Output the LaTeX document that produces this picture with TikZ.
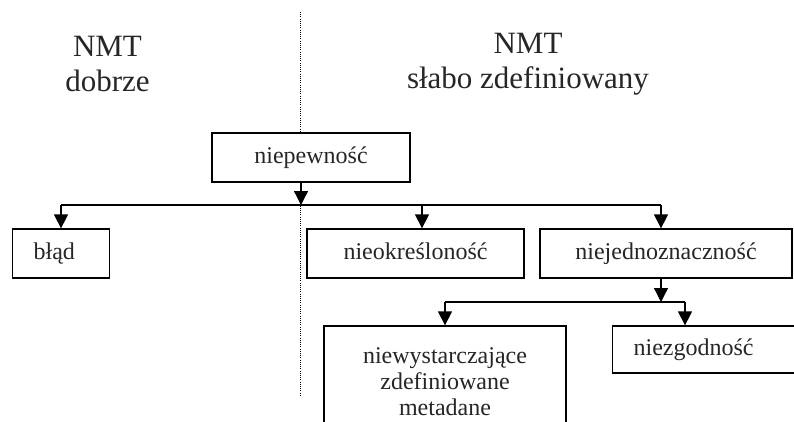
\documentclass[tikz,border=0pt]{standalone}
\usepackage{fontspec}
\setmainfont{Liberation Serif}
\usetikzlibrary{arrows.meta}
\begin{document}
\begin{tikzpicture}[x=1pt,y=-1pt,
  box/.style={draw, fill=white, line width=1.3pt, inner sep=0pt, font=\fontsize{24}{26}\selectfont, text=black!85},
  one/.style={text height=16.5pt, text depth=5.5pt},
  head/.style={font=\fontsize{31}{35}\selectfont, align=center, text=black!85, inner sep=0pt},
  arr/.style={line width=1.3pt, -{Triangle[length=14pt,width=14pt]}},
  bus/.style={line width=1.3pt}]
\useasboundingbox (0,0) rectangle (794,421);
\clip (0,0) rectangle (794,421);
% divider
\coordinate (dtop) at (300,12);
\coordinate (dbot) at (300,395);
\draw[line width=1pt, dash pattern=on 1pt off 1.2pt] (dtop) -- (dbot);
% headings
\node[head] (hl) at (107.5,64) {NMT\\dobrze};
\node[head] (hr) at (528,64) {NMT\\słabo zdefiniowany};
% boxes
\node[box, one, minimum width=198pt, minimum height=49pt] (niep) at (311,157.5) {niepewność};
\node[box, one, anchor=west, text width=55pt, inner xsep=21pt, minimum height=49pt, align=left] (blad) at (12,253.5) {błąd};
\node[box, one, minimum width=217pt, minimum height=49pt] (nieok) at (415.5,253.5) {nieokreśloność};
\node[box, one, minimum width=252pt, minimum height=49pt] (niej) at (666,253.5) {niejednoznaczność};
\node[box, minimum width=242pt, minimum height=112pt, align=center] (meta) at (445,382) {niewystarczające\\zdefiniowane\\metadane};
\node[box, one, anchor=west, text width=170pt, inner xsep=21pt, minimum height=47pt, align=left] (niez) at (612,349.5) {niezgodność};
% first level connectors
\coordinate (b1) at (301,205);
\coordinate (b1L) at (61,205);
\coordinate (b1M) at (422,205);
\coordinate (b1R) at (661,205);
\draw[bus] (b1L) -- (b1R);
\draw[arr] (b1 |- niep.south) -- (b1);
\draw[arr] (b1L) -- (b1L |- blad.north);
\draw[arr] (b1M) -- (b1M |- nieok.north);
\draw[arr] (b1R) -- (b1R |- niej.north);
% second level connectors
\coordinate (b2) at (661,302);
\coordinate (b2L) at (445,302);
\coordinate (b2R) at (685,302);
\draw[bus] (b2L) -- (b2R);
\draw[arr] (b2 |- niej.south) -- (b2);
\draw[arr] (b2L) -- (b2L |- meta.north);
\draw[arr] (b2R) -- (b2R |- niez.north);
\end{tikzpicture}
\end{document}
